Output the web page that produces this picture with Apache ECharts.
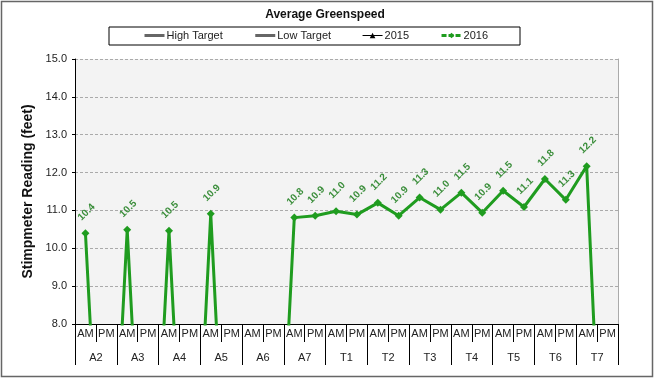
<!DOCTYPE html>
<html>
<head>
<meta charset="utf-8">
<script src="https://cdn.jsdelivr.net/npm/echarts@6/dist/echarts.min.js"></script>
<style>
html,body{margin:0;padding:0;background:#fff;}
#c{width:655px;height:379px;}
</style>
</head>
<body>
<div id="c"></div>
<script>
var sessions = ['AM','PM','AM','PM','AM','PM','AM','PM','AM','PM','AM','PM','AM','PM',
                'AM','PM','AM','PM','AM','PM','AM','PM','AM','PM','AM','PM'];
var days = ['A2','A3','A4','A5','A6','A7','T1','T2','T3','T4','T5','T6','T7'];
var yTicks = [8,9,10,11,12,13,14,15];
var highTarget = [];
var lowTarget = [];
var data2015 = [];
var data2016 = [10.40,0, 10.49,0, 10.46,0, 10.91,0, 0,0, 10.81,10.86,
                10.98,10.89, 11.20,10.86, 11.34,11.02, 11.47,10.94, 11.52,11.09,
                11.83,11.28, 12.17,0];

var chart = echarts.init(document.getElementById('c'));
var font = 'Liberation Sans, Arial, sans-serif';
var green = '#1f9c1f';
chart.setOption({
  animation: false,
  textStyle: {fontFamily: font},
  title: {
    text: 'Average Greenspeed',
    left: 320, textAlign: 'center', top: 4,
    textStyle: {fontSize: 12, fontWeight: 'bold', color: '#111', fontFamily: font}
  },
  legend: {
    left: 109, top: 27,
    padding: [3, 32, 4, 34],
    itemGap: 31,
    itemWidth: 20, itemHeight: 7,
    borderColor: '#000', borderWidth: 1,
    textStyle: {fontSize: 11, color: '#222', padding: [0,0,0,-3]},
    data: [
      {name: 'High Target', itemStyle: {opacity: 0}, lineStyle: {width: 3, color: '#666'}},
      {name: 'Low Target', itemStyle: {opacity: 0}, lineStyle: {width: 3, color: '#666'}},
      {name: '2015', lineStyle: {width: 1, color: '#000'}},
      {name: '2016', lineStyle: {width: 3, color: green, type: [5, 2]}}
    ]
  },
  graphic: [{
    type: 'rect', shape: {x: 1.5, y: 1.5, width: 651, height: 375},
    style: {fill: 'none', stroke: '#666', lineWidth: 1.5}, silent: true, z: -1
  }],
  grid: {
    left: 75, right: 37, top: 59, bottom: 55,
    show: true, backgroundColor: '#f3f3f3', borderWidth: 0
  },
  xAxis: [{
    type: 'category', data: sessions, boundaryGap: true, position: 'bottom',
    axisLine: {show: true, lineStyle: {color: '#000', width: 1}},
    axisTick: {show: true, interval: 0, length: 18, lineStyle: {color: '#000'}},
    axisLabel: {interval: 0, margin: 4, fontSize: 11, color: '#222'},
    splitLine: {show: false}
  }, {
    type: 'category', data: days, boundaryGap: true, position: 'bottom',
    axisLine: {show: false},
    axisTick: {show: true, interval: 0, length: 41, lineStyle: {color: '#000'}},
    axisLabel: {interval: 0, margin: 28, fontSize: 11, color: '#222'},
    splitLine: {show: false}
  }],
  yAxis: [{
    type: 'value', min: yTicks[0], max: yTicks[yTicks.length-1], interval: 1,
    name: 'Stimpmeter Reading (feet)', nameLocation: 'middle', nameGap: 38,
    nameTextStyle: {fontSize: 14, fontWeight: 'bold', color: '#111'},
    axisLine: {show: true, lineStyle: {color: '#000'}},
    axisTick: {show: true, length: 3, lineStyle: {color: '#000'}},
    axisLabel: {margin: 8, fontSize: 11, color: '#222', formatter: function(v){return v.toFixed(1);}},
    splitLine: {show: true, lineStyle: {color: '#aaa', type: [3,2], width: 1}}
  }, {
    type: 'value', min: yTicks[0], max: yTicks[yTicks.length-1], interval: 1, position: 'right',
    axisLine: {show: true, lineStyle: {color: '#aaa'}},
    axisTick: {show: false}, axisLabel: {show: false}, splitLine: {show: false}
  }],
  series: [{
    name: 'High Target', type: 'line', data: highTarget, symbol: 'none',
    lineStyle: {color: '#666', width: 3}, itemStyle: {color: '#666'}
  }, {
    name: 'Low Target', type: 'line', data: lowTarget, symbol: 'none',
    lineStyle: {color: '#666', width: 3}, itemStyle: {color: '#666'}
  }, {
    name: '2015', type: 'line', data: data2015, symbol: 'triangle', symbolSize: 7,
    lineStyle: {color: '#000', width: 1}, itemStyle: {color: '#000'}
  }, {
    name: '2016', type: 'line', data: data2016, symbol: 'diamond', symbolSize: 8,
    clip: true,
    lineStyle: {color: green, width: 3}, itemStyle: {color: green},
    label: {
      show: true, position: 'inside', rotate: 45, offset: [15.5, -14],
      align: 'center', verticalAlign: 'middle',
      fontSize: 10, fontWeight: 'bold', color: '#3b8e3b',
      formatter: function(p){ return p.value >= 8 ? p.value.toFixed(1) : ''; }
    }
  }]
});
</script>
</body>
</html>
